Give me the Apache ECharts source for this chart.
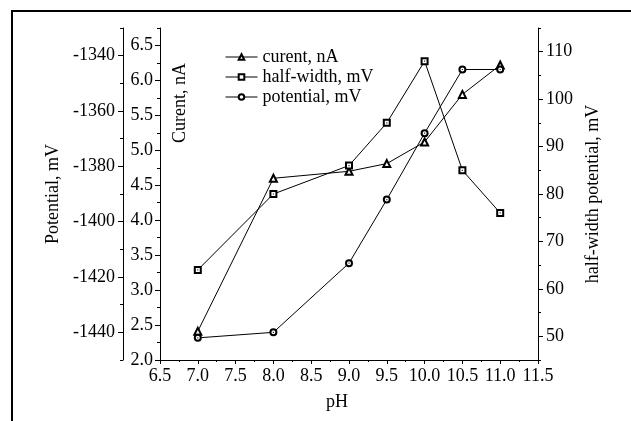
<!DOCTYPE html>
<html>
<head>
<meta charset="utf-8">
<title>pH dependence</title>
<script src="https://cdn.jsdelivr.net/npm/echarts@6/dist/echarts.min.js"></script>
<style>
  html, body { margin: 0; padding: 0; background: #fff; }
  #chart { width: 631px; height: 421px; }
</style>
</head>
<body>
<div id="chart"></div>
<script>
// Measurements vs pH
const pH = [7.0, 8.0, 9.0, 9.5, 10.0, 10.5, 11.0];
const currentNA = [2.41, 4.60, 4.70, 4.81, 5.12, 5.80, 6.22];
const halfWidthMV = [64, 80, 86, 95, 108, 85, 76];
const potentialMV = [-1442, -1440, -1415, -1392, -1368, -1345, -1345];

// Labelled (major) tick values of each axis
const pHTicks = [6.5, 7.0, 7.5, 8.0, 8.5, 9.0, 9.5, 10.0, 10.5, 11.0, 11.5];
const currentTicks = [2.0, 2.5, 3.0, 3.5, 4.0, 4.5, 5.0, 5.5, 6.0, 6.5];
const potentialTicks = [-1440, -1420, -1400, -1380, -1360, -1340];
const halfWidthTicks = [50, 60, 70, 80, 90, 100, 110];

const FONT = "'Liberation Serif', 'Times New Roman', serif";
const INK = '#000';

function pairs(ys) { return pH.map((x, i) => [x, ys[i]]); }

const labelStyle = { color: INK, fontFamily: FONT, fontSize: 18 };

function mainY(opts) {
  return Object.assign({
    type: 'value',
    axisLine: { show: true, lineStyle: { color: INK, width: 1 } },
    axisTick: { show: true, inside: false, length: 3, lineStyle: { color: INK, width: 1 } },
    splitLine: { show: false },
    nameTextStyle: { color: INK, fontFamily: FONT, fontSize: 18 },
    nameLocation: 'middle'
  }, opts);
}

function majorTicksY(opts, values) {
  return Object.assign({
    type: 'value',
    axisLine: { show: false },
    axisLabel: { show: false },
    axisTick: { show: true, inside: false, length: 5, customValues: values, lineStyle: { color: INK, width: 1 } },
    splitLine: { show: false }
  }, opts);
}

const chart = echarts.init(document.getElementById('chart'), null, { renderer: 'canvas' });

chart.setOption({
  animation: false,
  backgroundColor: '#fff',
  grid: { left: 160, right: 93, top: 28, bottom: 61, containLabel: false },
  legend: {
    orient: 'vertical',
    left: 225,
    top: 48,
    padding: 0,
    itemWidth: 32,
    itemHeight: 7,
    itemGap: 2,
    lineStyle: { color: INK, width: 1 },
    itemStyle: { borderColor: INK, borderWidth: 1 },
    textStyle: { color: INK, fontFamily: FONT, fontSize: 18 },
    data: ['curent, nA', 'half-width, mV', 'potential, mV']
  },
  xAxis: {
    type: 'value',
    min: 6.5,
    max: 11.5,
    interval: 0.5,
    name: 'pH',
    nameLocation: 'middle',
    nameGap: 33,
    nameTextStyle: { color: INK, fontFamily: FONT, fontSize: 18, padding: [0, 24, 0, 0] },
    axisLine: { show: true, onZero: false, lineStyle: { color: INK, width: 1 } },
    axisTick: { show: true, inside: false, length: 4, lineStyle: { color: INK, width: 1 } },
    minorTick: { show: true, splitNumber: 2, length: 2, lineStyle: { color: INK, width: 1 } },
    axisLabel: Object.assign({ margin: 7, customValues: pHTicks, formatter: v => v.toFixed(1) }, labelStyle),
    splitLine: { show: false }
  },
  yAxis: [
    // 0: current, left, next to the plot
    mainY({
      position: 'left', offset: 0, min: 2.0, max: 6.75, interval: 0.25,
      axisLabel: Object.assign({ margin: 7, customValues: currentTicks, formatter: v => v.toFixed(1) }, labelStyle)
    }),
    // 1: potential, left, outer
    mainY({
      position: 'left', offset: 37, min: -1450, max: -1330, interval: 10,
      name: 'Potential, mV', nameGap: 58,
      axisLabel: Object.assign({ margin: 8, customValues: potentialTicks, formatter: v => String(v) }, labelStyle)
    }),
    // 2: half-width, right
    mainY({
      position: 'right', offset: 0, min: 45, max: 115, interval: 5,
      name: 'half-width potential, mV', nameGap: 46,
      axisLabel: Object.assign({ margin: 8, customValues: halfWidthTicks, formatter: v => String(v) }, labelStyle)
    }),
    // 3-5: longer ticks at the labelled values
    majorTicksY({ position: 'left', offset: 0, min: 2.0, max: 6.75 }, currentTicks),
    majorTicksY({ position: 'left', offset: 37, min: -1450, max: -1330 }, potentialTicks),
    majorTicksY({ position: 'right', offset: 0, min: 45, max: 115 }, halfWidthTicks)
  ],
  graphic: [
    {
      type: 'rect',
      z: -10,
      shape: { x: 12, y: 11, width: 700, height: 500 },
      style: { fill: 'none', stroke: INK, lineWidth: 2 }
    },
    {
      type: 'text',
      x: 180,
      y: 103,
      rotation: Math.PI / 2,
      style: {
        text: 'Curent, nA',
        fill: INK,
        font: "18px 'Liberation Serif', 'Times New Roman', serif",
        textAlign: 'center',
        textVerticalAlign: 'middle'
      }
    }
  ],
  series: [
    {
      name: 'curent, nA',
      type: 'line',
      yAxisIndex: 0,
      data: pairs(currentNA),
      symbol: 'emptyTriangle',
      symbolSize: [7, 7],
      itemStyle: { color: INK, borderWidth: 1 },
      lineStyle: { color: INK, width: 1 },
      z: 3
    },
    {
      name: 'half-width, mV',
      type: 'line',
      yAxisIndex: 2,
      data: pairs(halfWidthMV),
      symbol: 'emptyRect',
      symbolSize: 6,
      itemStyle: { color: INK, borderWidth: 1 },
      lineStyle: { color: INK, width: 1 },
      z: 3
    },
    {
      name: 'potential, mV',
      type: 'line',
      yAxisIndex: 1,
      data: pairs(potentialMV),
      symbol: 'emptyCircle',
      symbolSize: 6,
      itemStyle: { color: INK, borderWidth: 1 },
      lineStyle: { color: INK, width: 1 },
      z: 3
    },
    // centre dots inside the square and circle markers
    {
      name: 'hw-dot', type: 'scatter', yAxisIndex: 2, data: pairs(halfWidthMV),
      symbol: 'rect', symbolSize: 1.2, itemStyle: { color: INK }, silent: true, z: 5
    },
    {
      name: 'pot-dot', type: 'scatter', yAxisIndex: 1, data: pairs(potentialMV),
      symbol: 'rect', symbolSize: 1.2, itemStyle: { color: INK }, silent: true, z: 5
    }
  ]
});
</script>
</body>
</html>
